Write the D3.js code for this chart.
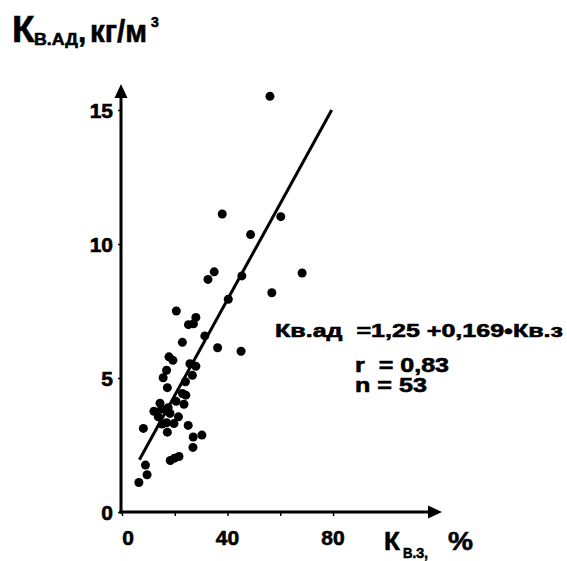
<!DOCTYPE html>
<html>
<head>
<meta charset="utf-8">
<script src="https://cdn.jsdelivr.net/npm/d3@7"></script>
<style>
  html, body { margin: 0; padding: 0; background: #fff; }
  svg { display: block; }
  text { font-family: "Liberation Sans", Arial, sans-serif; font-weight: bold; fill: #000; stroke: #000; stroke-width: 0.6; white-space: pre; }
</style>
</head>
<body>
<div id="chart"></div>
<script>
// ---- data ----
const pointsX = [56.1, 38.0, 60.2, 48.75, 34.96, 32.6, 45.45, 68.3, 56.8, 40.3,
                 20.6, 28.0, 25.2, 27.1, 31.4, 22.9, 36.25, 45.15, 17.8, 19.3,
                 25.75, 28.0, 16.9, 15.6, 26.7, 24.05, 17.2, 22.9, 24.2, 12.1,
                 15.0, 17.5, 18.2, 21.4, 16.9, 19.7, 8.1, 25.1, 17.2, 27.0,
                 30.3, 26.9, 21.6, 18.3, 8.9, 9.5, 6.4, 13.75, 19.9, 14.4,
                 20.5, 23.5, 15.2];
const pointsY = [15.51, 11.12, 11.02, 10.35, 8.96, 8.68, 8.81, 8.92, 8.18, 7.94,
                 7.50, 7.26, 6.99, 7.02, 6.57, 6.33, 6.13, 6.00, 5.79, 5.66,
                 5.53, 5.44, 5.29, 5.01, 5.10, 4.86, 4.64, 4.42, 4.36, 3.76,
                 3.84, 3.89, 3.68, 3.55, 3.33, 3.30, 3.12, 3.23, 2.98, 2.80,
                 2.87, 2.41, 2.07, 1.92, 1.75, 1.39, 1.10, 3.55, 2.01, 4.06,
                 4.13, 4.02, 3.28];
const lineX = [6.6, 79.5];      // regression line ends as drawn
const lineY = [1.95, 15.0];
const xTicks = [0, 40, 80];
const xMinorTicks = [20, 60];
const yTicks = [0, 5, 10, 15];
const titleY = ["К", "В.АД", ",", "кг/м", "3"];
const titleX = ["К", "В.З,", "%"];
const annotation = ["Кв.ад  =1,25 +0,169•Кв.з", "r  = 0,83", "n = 53"];

// ---- drawing ----
const W = 567, H = 561;
const svg = d3.select("#chart").append("svg").attr("width", W).attr("height", H);

const x = d3.scaleLinear().domain([0, 80]).range([122, 333]);
const y = d3.scaleLinear().domain([0, 15]).range([512, 110]);

const x0 = x(0) - 1, y0 = y(0);

// axes lines
svg.append("line").attr("x1", x0).attr("y1", y0 + 1.5).attr("x2", x0).attr("y2", 92)
  .attr("stroke", "#000").attr("stroke-width", 3);
svg.append("line").attr("x1", x0 - 1.5).attr("y1", y0).attr("x2", 432).attr("y2", y0)
  .attr("stroke", "#000").attr("stroke-width", 3);
// arrow heads
svg.append("path").attr("d", `M${x0},84 L${x0 - 6.5},98 L${x0 + 6.5},98 Z`).attr("fill", "#000");
svg.append("path").attr("d", `M442,${y0} L428,${y0 - 6.5} L428,${y0 + 6.5} Z`).attr("fill", "#000");

// ticks
const xAxis = d3.axisBottom(x).tickValues(xTicks.concat(xMinorTicks)).tickSize(4).tickFormat("");
const gx = svg.append("g").attr("transform", `translate(0,${y0})`).call(xAxis);
gx.select(".domain").remove();
gx.selectAll(".tick line").attr("stroke", "#000").attr("stroke-width", 1.5);

const yAxis = d3.axisLeft(y).tickValues(yTicks).tickSize(3).tickFormat("");
const gy = svg.append("g").attr("transform", `translate(${x0},0)`).call(yAxis);
gy.select(".domain").remove();
gy.selectAll(".tick line").attr("stroke", "#000").attr("stroke-width", 1.5);

// tick labels
svg.selectAll(".ylab").data(yTicks).enter().append("text")
  .attr("class", "ylab")
  .attr("x", 113).attr("y", d => y(d) + 7.5)
  .attr("text-anchor", "end").attr("font-size", 21)
  .text(d => d);
svg.selectAll(".xlab").data(xTicks).enter().append("text")
  .attr("class", "xlab")
  .attr("x", d => x(d) + (d === 0 ? 6 : 0)).attr("y", 545)
  .attr("text-anchor", "middle").attr("font-size", 21)
  .text(d => d);

// regression line
svg.append("line")
  .attr("x1", x(lineX[0])).attr("y1", y(lineY[0]))
  .attr("x2", x(lineX[1])).attr("y2", y(lineY[1]))
  .attr("stroke", "#000").attr("stroke-width", 3);

// points
svg.selectAll("circle.pt").data(d3.range(pointsX.length)).enter().append("circle")
  .attr("class", "pt")
  .attr("cx", i => x(pointsX[i])).attr("cy", i => y(pointsY[i]))
  .attr("r", 4.5).attr("fill", "#000");

// y-axis title
svg.append("text").attr("x", 12).attr("y", 42).attr("font-size", 37).text(titleY[0]);
svg.append("text").attr("x", 34).attr("y", 45).attr("font-size", 17)
  .attr("textLength", 44).attr("lengthAdjust", "spacingAndGlyphs").text(titleY[1]);
svg.append("text").attr("x", 78).attr("y", 42).attr("font-size", 30).text(titleY[2]);
svg.append("text").attr("x", 90).attr("y", 42).attr("font-size", 32)
  .attr("textLength", 57).attr("lengthAdjust", "spacingAndGlyphs").text(titleY[3]);
svg.append("text").attr("x", 151).attr("y", 27).attr("font-size", 14).text(titleY[4]);

// x-axis title
svg.append("text").attr("x", 384).attr("y", 550).attr("font-size", 26).text(titleX[0]);
svg.append("text").attr("x", 403).attr("y", 558).attr("font-size", 14)
  .attr("textLength", 25).attr("lengthAdjust", "spacingAndGlyphs").text(titleX[1]);
svg.append("text").attr("x", 448).attr("y", 550).attr("font-size", 26)
  .attr("textLength", 25).attr("lengthAdjust", "spacingAndGlyphs").text(titleX[2]);

// annotation
svg.append("text").attr("x", 275).attr("y", 337).attr("font-size", 19)
  .attr("textLength", 288).attr("lengthAdjust", "spacingAndGlyphs").text(annotation[0]);
svg.append("text").attr("x", 355).attr("y", 372).attr("font-size", 20)
  .attr("textLength", 94).attr("lengthAdjust", "spacingAndGlyphs").text(annotation[1]);
svg.append("text").attr("x", 355).attr("y", 392).attr("font-size", 20)
  .attr("textLength", 72).attr("lengthAdjust", "spacingAndGlyphs").text(annotation[2]);
</script>
</body>
</html>
